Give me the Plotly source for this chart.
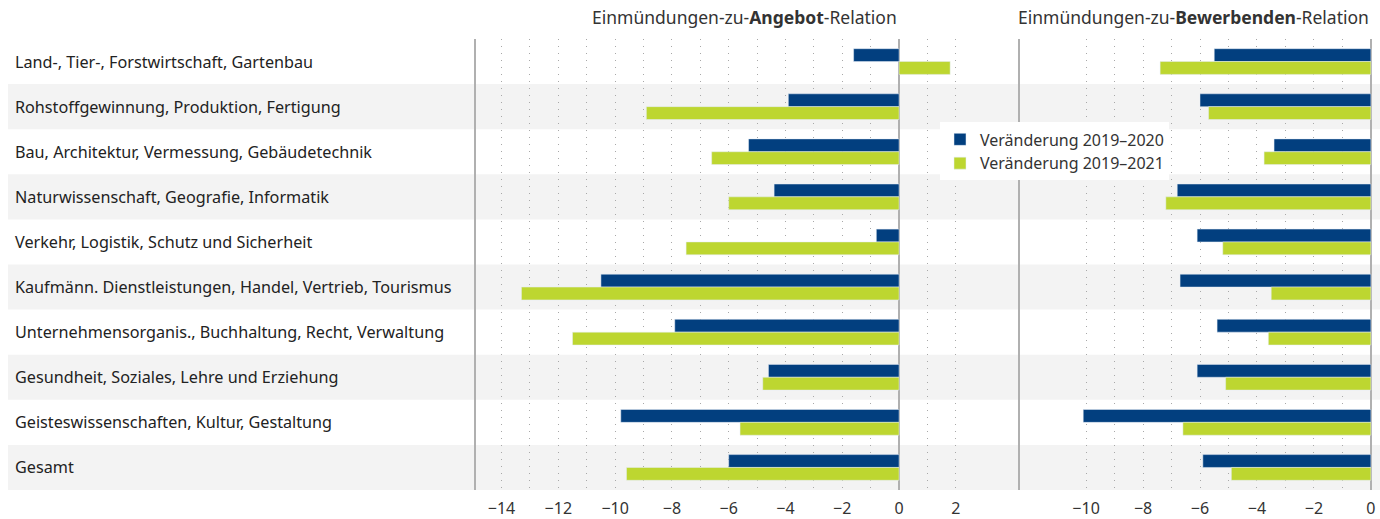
import plotly.graph_objects as go

categories = [
    "Land-, Tier-, Forstwirtschaft, Gartenbau",
    "Rohstoffgewinnung, Produktion, Fertigung",
    "Bau, Architektur, Vermessung, Gebäudetechnik",
    "Naturwissenschaft, Geografie, Informatik",
    "Verkehr, Logistik, Schutz und Sicherheit",
    "Kaufmänn. Dienstleistungen, Handel, Vertrieb, Tourismus",
    "Unternehmensorganis., Buchhaltung, Recht, Verwaltung",
    "Gesundheit, Soziales, Lehre und Erziehung",
    "Geisteswissenschaften, Kultur, Gestaltung",
    "Gesamt",
]
series_names = ["Veränderung 2019–2020", "Veränderung 2019–2021"]

angebot_2020 = [-1.6, -3.9, -5.3, -4.4, -0.8, -10.5, -7.9, -4.6, -9.8, -6.0]
angebot_2021 = [1.8, -8.9, -6.6, -6.0, -7.5, -13.3, -11.5, -4.8, -5.6, -9.6]
bewerb_2020 = [-5.5, -6.0, -3.4, -6.8, -6.1, -6.7, -5.4, -6.1, -10.1, -5.9]
bewerb_2021 = [-7.4, -5.7, -3.75, -7.2, -5.2, -3.5, -3.6, -5.1, -6.6, -4.9]

left_ticks = list(range(-14, 3))
right_ticks = list(range(-10, 1))

def tick_text(v):
    if v % 2:
        return ""
    return ("\u2212" + str(-v)) if v < 0 else str(v)

BLUE = "#023f7f"
GREEN = "#bdd630"
FONT = "'Noto Sans', 'Open Sans', sans-serif"
W, H = 1380, 519

fig = go.Figure()
fig.add_trace(go.Bar(y=categories, x=angebot_2020, orientation="h", name=series_names[0],
                     marker_color=BLUE, xaxis="x", yaxis="y", legendgroup="a"))
fig.add_trace(go.Bar(y=categories, x=angebot_2021, orientation="h", name=series_names[1],
                     marker_color=GREEN, xaxis="x", yaxis="y", legendgroup="b"))
fig.add_trace(go.Bar(y=categories, x=bewerb_2020, orientation="h", name=series_names[0],
                     marker_color=BLUE, xaxis="x2", yaxis="y2", legendgroup="a", showlegend=False))
fig.add_trace(go.Bar(y=categories, x=bewerb_2021, orientation="h", name=series_names[1],
                     marker_color=GREEN, xaxis="x2", yaxis="y2", legendgroup="b", showlegend=False))

# alternating row bands
for i, c in enumerate(categories):
    if i % 2 == 1:
        fig.add_shape(type="rect", xref="paper", yref="y", x0=8 / W, x1=1,
                      y0=i - 0.5, y1=i + 0.5, fillcolor="#f3f3f3", line_width=0, layer="below")

# category labels
for i, c in enumerate(categories):
    fig.add_annotation(text=c, xref="paper", yref="y", x=13 / W, y=i, xanchor="left",
                       yanchor="middle", showarrow=False, font=dict(size=16.2, color="#222"))

fig.add_annotation(text="Einmündungen-zu-<b>Angebot</b>-Relation", xref="paper", yref="paper",
                   x=744 / W, y=1, yshift=22, xanchor="center", yanchor="middle", showarrow=False,
                   font=dict(size=17.5, color="#333"))
fig.add_annotation(text="Einmündungen-zu-<b>Bewerbenden</b>-Relation", xref="paper", yref="paper",
                   x=1371 / W, y=1, yshift=22, xanchor="right", yanchor="middle", showarrow=False,
                   font=dict(size=17.5, color="#333"))

axis_common = dict(showgrid=True, gridcolor="#a8a8a8", griddash="1px,6px", gridwidth=1,
                   zeroline=True, zerolinecolor="#b0b0b0", zerolinewidth=2,
                   ticks="", ticklabelstandoff=7, tickfont=dict(size=16, color="#333"),
                   showline=False, fixedrange=True)

fig.update_layout(
    width=W, height=H,
    margin=dict(l=0, r=0, t=39, b=25),
    paper_bgcolor="white", plot_bgcolor="rgba(0,0,0,0)",
    font=dict(family=FONT, color="#333"),
    barmode="group", bargap=0.43, bargroupgap=0,
    xaxis=dict(domain=[476 / W, 1020 / W], range=[-14.9, 4.26], tickvals=left_ticks,
               ticktext=[tick_text(v) for v in left_ticks], anchor="y", **axis_common),
    xaxis2=dict(domain=[1020 / W, 1.0], range=[-12.32, 0.32], tickvals=right_ticks,
                ticktext=[tick_text(v) for v in right_ticks], anchor="y2", **axis_common),
    yaxis=dict(domain=[0, 1], range=[9.5, -0.5], showticklabels=False, showgrid=False,
               showline=True, linecolor="#b0b0b0", linewidth=2, anchor="x", fixedrange=True),
    yaxis2=dict(domain=[0, 1], range=[9.5, -0.5], showticklabels=False, showgrid=False,
                showline=True, linecolor="#b0b0b0", linewidth=2, anchor="x2", matches="y",
                fixedrange=True),
    legend=dict(x=940 / W, y=0.815, xanchor="left", yanchor="top", bgcolor="white",
                font=dict(size=16, color="#333"), traceorder="normal", itemwidth=30,
                tracegroupgap=0),
    showlegend=True,
)

fig.write_html("out.html", config={"displayModeBar": False},
               post_script="document.body.style.margin='0';")
